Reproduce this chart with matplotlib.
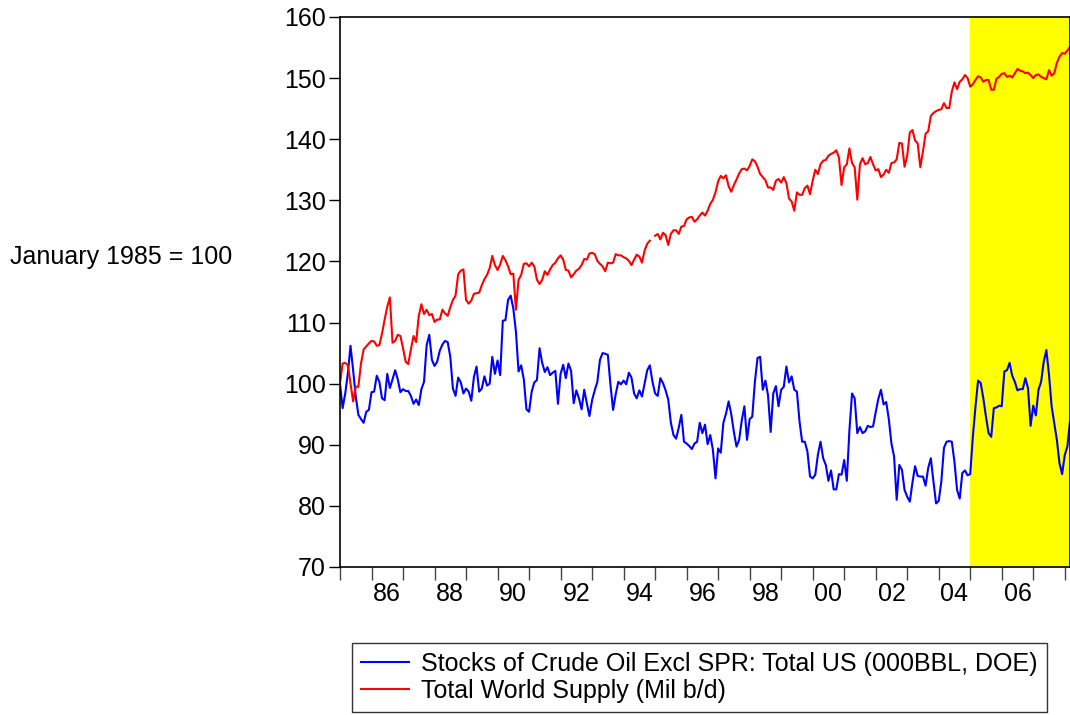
import numpy as np
import pandas as pd
import matplotlib
matplotlib.use("Agg")
import matplotlib.pyplot as plt

plt.rcParams['font.family'] = ['Liberation Sans', 'DejaVu Sans']

# monthly, Jan 1985 .. Mar 2008, index Jan 1985 = 100
dates = pd.date_range("1985-01-01", "2008-03-01", freq="MS")

stocks = [
    100.0, 96.0, 98.4, 101.7, 106.2, 102.2, 97.9, 94.9, 94.2, 93.6,
    95.4, 95.7, 98.6, 98.7, 101.3, 100.3, 97.6, 97.3, 101.6, 99.3,
    100.7, 102.2, 100.7, 98.6, 99.1, 98.8, 98.8, 98.0, 96.7, 97.4,
    96.5, 99.1, 100.3, 106.3, 108.0, 103.9, 102.9, 103.6, 105.4, 106.4,
    107.0, 106.8, 104.4, 99.2, 98.0, 101.0, 100.2, 98.4, 99.2, 98.7,
    97.2, 101.1, 102.8, 98.7, 99.2, 101.2, 99.7, 100.0, 104.4, 101.6,
    103.8, 101.4, 110.3, 110.4, 113.7, 114.4, 112.3, 108.5, 102.0, 103.0,
    100.7, 95.8, 95.4, 98.7, 100.2, 100.6, 105.8, 103.4, 101.9, 102.7,
    101.4, 101.8, 102.1, 96.7, 101.6, 103.1, 100.9, 103.3, 102.1, 96.8,
    98.9, 97.6, 95.8, 99.0, 96.8, 94.7, 97.3, 98.9, 100.3, 103.9,
    105.0, 104.9, 104.7, 99.8, 95.7, 98.3, 100.3, 99.9, 100.5, 99.9,
    101.8, 101.0, 98.4, 97.6, 98.9, 97.9, 100.0, 102.2, 103.0, 100.3,
    98.4, 98.0, 100.9, 100.1, 98.9, 97.4, 93.6, 91.6, 91.0, 92.8,
    94.9, 90.5, 90.2, 89.8, 89.3, 90.2, 90.5, 93.6, 91.9, 93.3,
    90.1, 91.6, 89.2, 84.5, 89.4, 88.7, 93.6, 95.1, 97.1, 95.0,
    92.1, 89.7, 90.8, 94.0, 96.3, 90.8, 94.2, 94.6, 100.3, 104.2,
    104.4, 99.0, 100.5, 98.1, 92.1, 98.4, 99.6, 96.3, 99.0, 99.5,
    102.8, 100.2, 101.2, 99.0, 98.7, 93.8, 90.5, 90.5, 88.9, 84.8,
    84.5, 85.1, 88.4, 90.5, 87.8, 86.7, 84.1, 85.8, 82.7, 82.7,
    85.2, 85.1, 87.5, 84.1, 92.4, 98.4, 97.6, 91.9, 92.9, 91.9,
    92.2, 93.1, 92.9, 93.0, 95.3, 97.5, 99.0, 96.6, 97.0, 94.2,
    90.2, 88.1, 81.0, 86.7, 85.9, 82.6, 81.5, 80.7, 83.8, 86.5,
    84.9, 84.8, 84.8, 83.3, 86.2, 87.8, 84.0, 80.4, 80.8, 84.0,
    89.5, 90.5, 90.6, 90.5, 87.2, 82.6, 81.2, 85.4, 85.8, 85.0,
    85.2, 91.3, 96.2, 100.5, 100.1, 97.6, 94.6, 91.9, 91.3, 96.0,
    96.1, 96.4, 96.3, 102.0, 102.2, 103.4, 101.3, 100.3, 98.9, 99.1,
    99.1, 100.9, 99.3, 93.1, 96.4, 94.8, 99.0, 100.3, 103.6, 105.5,
    101.5, 96.3, 93.5, 90.8, 87.0, 85.2, 88.3, 89.7, 93.8,
]

supply = [
    100.0, 103.3, 103.4, 103.0, 100.1, 97.1, 99.5, 99.5, 103.3, 105.6,
    106.1, 106.6, 107.0, 106.9, 106.2, 106.3, 108.2, 110.5, 112.6, 114.1,
    106.7, 107.0, 108.0, 107.8, 105.8, 103.6, 103.2, 105.6, 107.8, 106.8,
    111.1, 113.0, 111.4, 112.1, 111.2, 111.4, 110.1, 110.5, 110.5, 112.1,
    111.5, 111.1, 112.5, 113.7, 114.4, 117.9, 118.5, 118.7, 113.7, 113.1,
    113.6, 114.7, 114.8, 114.9, 116.1, 117.1, 117.8, 118.9, 120.9, 119.4,
    118.6, 119.5, 120.9, 120.2, 119.2, 117.9, 118.0, 112.1, 117.0, 117.8,
    119.6, 119.7, 119.2, 119.8, 119.2, 117.0, 116.3, 117.0, 118.4, 117.8,
    118.7, 119.4, 119.8, 120.5, 121.0, 120.3, 118.6, 118.5, 117.4, 117.9,
    118.5, 118.8, 119.4, 120.4, 120.3, 121.3, 121.4, 121.2, 120.1, 119.6,
    119.2, 118.4, 119.8, 119.7, 119.8, 121.2, 121.0, 121.0, 120.7, 120.5,
    120.1, 119.4, 120.3, 121.1, 120.8, 119.8, 121.8, 122.9, 123.4, np.nan,
    124.2, 124.5, 123.6, 124.7, 124.3, 122.7, 124.5, 125.1, 125.1, 124.5,
    125.7, 125.8, 126.9, 127.2, 127.3, 126.5, 126.9, 127.5, 128.0, 127.5,
    128.3, 129.4, 130.1, 131.3, 133.1, 134.0, 133.6, 134.1, 132.3, 131.4,
    132.5, 133.4, 134.4, 135.1, 135.2, 134.9, 135.6, 136.7, 136.4, 135.5,
    134.3, 133.8, 133.3, 132.1, 132.1, 131.7, 133.2, 133.5, 132.9, 133.8,
    132.8, 130.3, 129.8, 128.3, 131.3, 130.9, 130.9, 132.0, 132.4, 131.0,
    133.2, 135.0, 134.3, 135.9, 136.5, 136.6, 137.3, 137.6, 137.8, 138.2,
    137.0, 132.5, 135.4, 135.9, 138.5, 136.1, 135.4, 130.1, 135.9, 136.9,
    135.9, 136.1, 137.1, 135.9, 134.9, 135.1, 133.8, 134.2, 135.0, 134.5,
    136.1, 136.2, 136.7, 139.4, 139.3, 135.5, 137.3, 141.1, 141.5, 139.8,
    139.3, 135.4, 138.0, 140.9, 141.3, 143.8, 144.3, 144.6, 144.8, 144.9,
    145.9, 145.1, 145.1, 147.8, 149.3, 148.2, 149.4, 149.8, 150.5, 150.0,
    148.6, 149.0, 149.7, 150.3, 150.1, 149.4, 149.7, 149.7, 148.1, 148.1,
    149.9, 150.2, 150.7, 150.8, 150.2, 150.4, 150.1, 150.8, 151.5, 151.2,
    151.1, 150.8, 150.9, 150.5, 150.0, 150.5, 150.6, 150.2, 150.0, 149.8,
    151.3, 150.4, 150.8, 152.5, 153.5, 154.1, 154.0, 154.5, 155.1,
]

label_years = list(range(1986, 2007, 2))
shade_start = 2005.0

x = dates.year + (dates.month - 1) / 12.0

fig = plt.figure(figsize=(10.7, 7.15), dpi=100)
ax = fig.add_axes([340 / 1070, 1 - 567 / 715, 730 / 1070, 550 / 715])

ax.axvspan(shade_start, x[-1], color="#ffff00", lw=0, zorder=0)
ax.plot(x, stocks, color="#0000ff", lw=1.5, zorder=2,
        label="Stocks of Crude Oil Excl SPR: Total US (000BBL, DOE)")
ax.plot(x, supply, color="#ff0000", lw=1.5, zorder=2,
        label="Total World Supply (Mil b/d)")

ax.set_xlim(x[0], x[-1])
ax.set_ylim(70, 160)
ax.set_yticks(np.arange(70, 161, 10))

# year boundaries get tick marks, even years get a centred label
ax.set_xticks(range(1985, 2009))
ax.set_xticklabels([])
ax.set_xticks([y + 0.5 for y in label_years], minor=True)
ax.set_xticklabels([str(y)[2:] for y in label_years], minor=True)
ax.tick_params(axis="x", which="major", direction="out", length=9, width=1, color="#444444")
ax.tick_params(axis="x", which="minor", length=0, pad=11, labelsize=18)
ax.tick_params(axis="y", direction="out", length=8, width=1, labelsize=18, pad=2)

for s in ax.spines.values():
    s.set_linewidth(1.2)
    s.set_color("black")

fig.text(10 / 1070, 1 - 257 / 715, "January 1985 = 100", fontsize=18,
         ha="left", va="center")

leg = fig.legend(loc="upper left", bbox_to_anchor=(352 / 1070, 1 - 643 / 715),
                 fontsize=18, frameon=True, fancybox=False, edgecolor="black",
                 handlelength=1.9, borderpad=0.36, labelspacing=0.12,
                 handletextpad=0.5, borderaxespad=0)
leg.get_frame().set_linewidth(1.0)

fig.savefig("out.png", dpi=100)
